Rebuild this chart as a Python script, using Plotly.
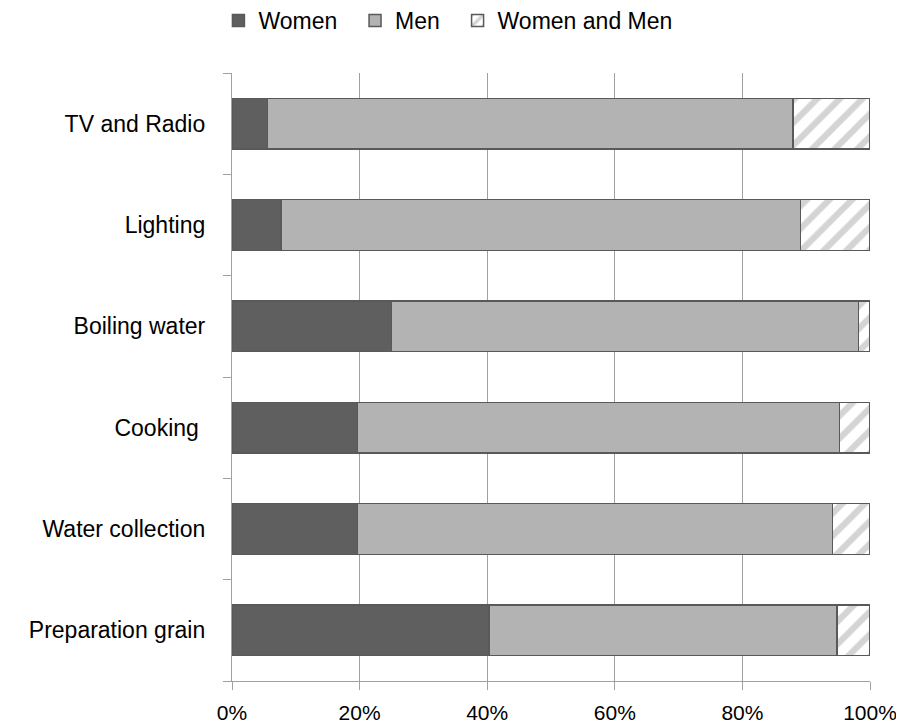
import plotly.graph_objects as go

categories = ["Preparation grain", "Water collection", "Cooking\u00a0", "Boiling water", "Lighting", "TV and Radio"]
women = [40.3, 19.7, 19.7, 25.0, 7.7, 5.6]
men = [54.5, 74.4, 75.5, 73.2, 81.4, 82.3]
women_and_men = [5.2, 5.9, 4.8, 1.8, 10.9, 12.1]
x_ticks = [0, 20, 40, 60, 80, 100]
x_tick_labels = ["0%", "20%", "40%", "60%", "80%", "100%"]

FONT = "Liberation Sans"
OUTLINE = "#595959"
GRID = "#a0a0a0"

fig = go.Figure()
fig.add_trace(go.Bar(
    y=categories, x=women, orientation="h", name="Women\u00a0\u00a0",
    marker=dict(color="#5f5f5f", line=dict(color=OUTLINE, width=1.5)),
))
fig.add_trace(go.Bar(
    y=categories, x=men, orientation="h", name="Men\u00a0\u00a0",
    marker=dict(color="#b3b3b3", line=dict(color=OUTLINE, width=1.5)),
))
fig.add_trace(go.Bar(
    y=categories, x=women_and_men, orientation="h", name="Women and Men",
    marker=dict(color="white", line=dict(color=OUTLINE, width=1.5),
                pattern=dict(shape="/", fgcolor="#aaaaaa", bgcolor="white",
                             size=16, solidity=0.4)),
))

fig.update_layout(
    width=896, height=719,
    barmode="stack", bargap=0.5,
    plot_bgcolor="white", paper_bgcolor="white",
    margin=dict(l=224, r=34, t=65, b=46, autoexpand=False),
    font=dict(family=FONT, size=23, color="#000000"),
    showlegend=True,
    legend=dict(orientation="h", xref="container", yref="container",
                x=0.491, xanchor="center", y=1 - 12.5 / 719, yanchor="middle",
                font=dict(size=23), traceorder="normal",
                bgcolor="rgba(0,0,0,0)"),
    xaxis=dict(range=[0, 100], tickvals=x_ticks, ticktext=x_tick_labels,
               showgrid=True, gridcolor=GRID, gridwidth=1.3,
               showline=True, linecolor=GRID, linewidth=1.3,
               ticks="outside", ticklen=8, tickcolor=GRID, tickwidth=1.3,
               tickfont=dict(size=21), ticklabelstandoff=5,
               zeroline=False, fixedrange=True, automargin=False),
    yaxis=dict(type="category", categoryorder="array", categoryarray=categories,
               range=[-0.5, 5.5],
               showgrid=False, showline=True, linecolor=GRID, linewidth=1.3,
               ticks="outside", tickson="boundaries", ticklen=8,
               tickcolor=GRID, tickwidth=1.3,
               tickfont=dict(size=23), ticklabelstandoff=21,
               zeroline=False, fixedrange=True, automargin=False),
)

fig.write_html("out.html")
